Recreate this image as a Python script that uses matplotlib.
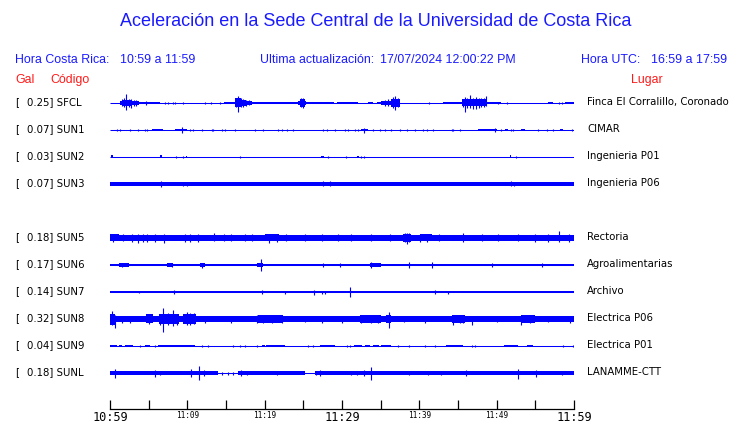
import matplotlib
matplotlib.use("Agg")
import matplotlib.pyplot as plt

# ---------------- data ----------------
codes = ["SFCL", "SUN1", "SUN2", "SUN3", None, "SUN5", "SUN6", "SUN7", "SUN8", "SUN9", "SUNL"]
gal = [0.25, 0.07, 0.03, 0.07, None, 0.18, 0.17, 0.14, 0.32, 0.04, 0.18]
places = ["Finca El Corralillo, Coronado", "CIMAR", "Ingenieria P01", "Ingenieria P06", None,
          "Rectoria", "Agroalimentarias", "Archivo", "Electrica P06", "Electrica P01", "LANAMME-CTT"]

tick_minutes = [0, 5, 10, 15, 20, 25, 30, 35, 40, 45, 50, 55, 60]
tick_labels = ["10:59", "", "11:09", "", "11:19", "", "11:29", "", "11:39", "", "11:49", "", "11:59"]
big_labels = ["10:59", "11:29", "11:59"]

# envelope bursts (start_min, end_min, half amplitude in px) and spikes (min, up px, down px)
sfcl_bursts = [(1.3, 1.6, 2.2), (1.6, 2.9, 3.0), (2.9, 3.7, 2.0), (3.7, 6.5, 1.0),
               (14.7, 16.2, 1.3), (16.2, 16.9, 4.5), (16.9, 17.6, 3.0), (17.6, 18.3, 2.0),
               (18.3, 22.6, 1.4), (22.6, 24.3, 1.0), (24.3, 24.6, 2.0), (24.6, 25.2, 3.6),
               (25.2, 25.4, 1.8), (25.4, 29.0, 1.0), (29.4, 32.1, 1.0), (33.4, 34.0, 1.0),
               (34.5, 35.1, 1.0), (35.1, 36.3, 2.3), (36.3, 37.5, 3.8), (43.1, 45.5, 1.3),
               (45.5, 48.7, 3.5), (48.7, 50.6, 0.8), (56.7, 57.3, 1.0), (58.8, 60.0, 1.3)]
sfcl_spikes = [(2.1, 9.3, 7.3), (1.5, 4, 3), (1.8, 5, 4), (2.4, 4, 4), (2.7, 4, 5), (3.1, 3, 3),
               (3.4, 3, 3), (4.7, 2, 2), (16.3, 5, 4), (16.6, 7.3, 9.3), (16.9, 5, 4), (17.2, 4, 4),
               (17.6, 3, 3), (18.0, 2.5, 2.5), (24.7, 4.5, 4), (24.9, 5, 5.5), (35.5, 3, 3),
               (36.0, 3.5, 3), (36.6, 6, 5), (36.85, 7, 7), (37.2, 5, 4), (45.6, 4, 4), (45.9, 6, 9.3),
               (46.2, 5, 5), (46.6, 8, 5), (47.0, 5, 6), (47.3, 6, 6), (47.7, 5, 5), (48.0, 5, 4),
               (48.3, 5, 4), (48.6, 7.3, 3), (7.1, 1, 1), (7.5, 1, 1), (8.2, 1, 1), (8.4, 1, 1),
               (9.5, 1, 1), (12.3, 1, 1), (13.1, 1, 1), (14.2, 1, 1), (41.2, 1, 1), (50.2, 1, 1),
               (51.3, 1, 1), (58.0, 1, 1), (58.4, 1, 1)]

sun1_bursts = [(5.4, 6.9, 1.0), (8.4, 9.9, 1.3), (32.5, 33.4, 1.0), (47.6, 50.0, 1.0), (51.1, 51.5, 1.0),
               (53.2, 53.6, 1.0), (58.2, 58.6, 1.0)]
sun1_spikes = [(9.3, 2.7, 3), (32.9, 2, 3.5), (49.8, 2, 2),
               (0.86, 1.2, 1.2), (1.29, 1.2, 1.2), (2.59, 1.2, 1.2), (3.66, 1.2, 1.2), (4.53, 1.2, 1.2),
               (4.74, 1.2, 1.2), (10.35, 1.2, 1.2), (10.78, 1.2, 1.2), (11.85, 1.2, 1.2), (13.15, 1.2, 1.2),
               (13.36, 1.2, 1.2), (14.44, 1.2, 1.2), (14.87, 1.2, 1.2), (16.16, 1.2, 1.2), (18.75, 1.2, 1.2),
               (19.83, 1.2, 1.2), (21.77, 1.2, 1.2), (22.2, 1.2, 1.2), (22.85, 1.2, 1.2), (23.71, 1.2, 1.2),
               (27.6, 1.2, 1.2), (28.0, 1.2, 1.2), (29.1, 1.2, 1.2), (30.4, 1.2, 1.2), (30.8, 1.2, 1.2),
               (31.7, 1.2, 1.2), (32.1, 1.2, 1.2), (34.05, 1.2, 1.2), (34.9, 1.2, 1.2), (35.6, 1.2, 1.2),
               (36.4, 1.2, 1.2), (37.5, 1.2, 1.2), (38.4, 1.2, 1.2), (39.4, 1.2, 1.2), (40.5, 1.2, 1.2),
               (41.0, 1.2, 1.2), (41.8, 1.2, 1.2), (44.2, 1.2, 1.2), (44.4, 1.2, 1.2), (45.3, 1.2, 1.2),
               (50.6, 1.2, 1.2), (51.9, 1.2, 1.2), (52.1, 1.2, 1.2), (55.4, 1.2, 1.2), (56.5, 1.2, 1.2),
               (57.3, 1.2, 1.2), (59.7, 1.2, 1.2)]

sun2_bursts = [(0.1, 0.35, 1.5), (6.5, 6.7, 1.5), (9.8, 10.0, 1.3), (27.3, 27.7, 1.3), (31.9, 32.2, 1.3),
               (51.7, 51.9, 1.5)]
sun2_spikes = [(8.5, 1, 1), (9.5, 1.3, 1.3), (16.8, 1.3, 1.3), (28.2, 1, 1), (30.5, 1.3, 1.3),
               (32.5, 1.3, 1.3), (32.8, 1.3, 1.3), (52.5, 1, 1)]

sun3_bursts = [(0.0, 60.0, 1.6)]
sun3_spikes = [(6.6, 3, 3.5), (9.5, 2.3, 2.3), (10.0, 2.3, 2.3), (21.8, 2.3, 1.5), (27.6, 2.5, 2.5),
               (28.4, 2.5, 2.5), (51.8, 2.5, 2.5), (52.3, 2, 2)]

sun5_bursts = [(0.0, 60.0, 2.7), (0.0, 1.1, 3.5), (2.6, 5.0, 3.3), (5.4, 7.5, 3.3), (9.3, 11.9, 3.3),
               (13.0, 14.2, 3.3), (20.0, 21.8, 3.5), (37.9, 38.9, 4.0), (40.1, 41.6, 3.5),
               (55.2, 59.9, 3.3)]
sun5_spikes = [(0.43, 4, 4), (1.72, 3.5, 3.5), (2.8, 4, 4), (3.66, 4, 5), (4.3, 4, 4), (4.74, 4, 4),
               (5.8, 3.5, 4), (7.0, 4, 5), (9.7, 4, 4), (10.3, 4, 4), (11.4, 4, 4), (13.4, 5, 3),
               (14.7, 3.5, 3.5), (15.7, 3.5, 3.5), (17.5, 3.5, 3.5), (18.3, 3.5, 3.5), (20.5, 4, 5),
               (21.6, 4, 4), (22.8, 3.5, 3.5), (25.2, 3.5, 3.5), (27.4, 3.5, 3.5), (29.5, 3.5, 3.5),
               (31.2, 3.5, 3.5), (33.8, 3.5, 3.5), (36.2, 3.5, 3.5), (38.1, 4.5, 4.5), (38.4, 5, 6),
               (38.7, 4.5, 4.5), (40.1, 4, 4), (41.0, 4, 4), (42.5, 3.5, 3.5), (45.7, 4.5, 4.5),
               (48.1, 3.5, 3.5), (50.2, 3.5, 3.5), (52.8, 3.5, 3.5), (55.0, 4, 4), (56.7, 4, 4),
               (58.1, 7, 4), (59.3, 4, 4)]

sun6_bursts = [(0.0, 60.0, 1.4), (1.1, 2.4, 2.0), (7.4, 8.2, 2.0), (11.6, 12.3, 2.2), (19.0, 19.8, 2.0),
               (33.6, 35.1, 2.2)]
sun6_spikes = [(19.5, 6.3, 6), (38.6, 3, 3), (41.6, 3.3, 3.3), (49.4, 2, 2), (55.8, 2, 2), (8.0, 2.3, 2.3),
               (27.6, 2.3, 2.3), (29.7, 2.3, 2.3), (33.8, 3, 3), (11.9, 2.5, 2.5), (1.5, 2.3, 2.3)]

sun7_bursts = [(0.0, 60.0, 1.4)]
sun7_spikes = [(31.0, 5.3, 5.5), (8.3, 2.3, 2.3), (19.6, 2.3, 2.3), (26.4, 2.5, 2.5), (42.0, 2.2, 2.2),
               (3.7, 1.3, 1.3), (22.6, 1.5, 1.5), (27.4, 1.5, 1.5), (27.8, 1.5, 1.5), (43.7, 1.5, 1.5)]

sun8_bursts = [(0.0, 60.0, 2.7), (0.0, 0.7, 5.5), (4.6, 5.5, 4.5), (6.3, 8.9, 5.0), (9.5, 11.1, 5.3),
               (19.2, 22.4, 3.7), (32.3, 35.1, 3.7), (35.7, 36.3, 4.2), (44.2, 45.9, 3.7),
               (53.2, 55.0, 3.7)]
sun8_spikes = [(0.2, 8, 6), (0.6, 4, 9.3), (1.5, 3.5, 3.5), (2.6, 3.5, 3.5), (5.0, 5.3, 5.3),
               (6.5, 5.5, 5.5), (6.9, 10.7, 12.7), (7.5, 6, 6), (8.2, 8.7, 6.7), (8.6, 5.5, 5.5),
               (9.9, 7.3, 6), (10.4, 6, 6), (10.8, 6, 5), (12.3, 3.5, 3.5), (15.7, 3.5, 3.5),
               (19.0, 4.5, 4.5), (19.8, 4.5, 4.5), (21.0, 4, 4), (22.2, 4.5, 4.5), (25.2, 3, 3),
               (27.4, 3.5, 3.5), (30.0, 3.5, 3.5), (32.5, 4.5, 4.5), (33.8, 4, 4), (34.6, 4, 4),
               (36.1, 7, 8.7), (38.0, 3, 3), (40.7, 3.5, 3.5), (44.4, 4, 6), (45.2, 4, 4),
               (45.7, 4, 4), (46.8, 3, 6), (50.0, 3, 3), (53.2, 3.5, 6), (54.3, 4.5, 4.5),
               (56.7, 3, 3), (59.5, 3.5, 3.5)]

sun9_bursts = [(0.0, 0.86, 1.2), (1.1, 1.5, 1.2), (1.9, 3.0, 1.2), (4.5, 5.2, 1.2), (6.25, 11.0, 1.2),
               (19.6, 20.0, 1.2), (20.2, 22.6, 1.2), (27.1, 29.1, 1.2), (31.5, 32.6, 1.2), (33.0, 33.6, 1.2),
               (34.0, 34.8, 1.2), (35.0, 36.4, 1.2), (43.5, 45.7, 1.2), (50.9, 52.8, 1.2), (53.9, 54.7, 1.2)]
sun9_spikes = [(t, 1.2, 1.2) for t in [3.9, 5.8, 11.85, 12.7, 15.95, 16.8, 17.5, 19.0, 25.6, 26.3, 30.6,
                                         31.0, 37.3, 38.6, 40.7, 42.0, 46.8, 47.2, 58.6, 59.9]]

sunl_bursts = [(0.0, 14.0, 1.7), (16.6, 25.2, 1.7), (26.5, 60.0, 1.7)]
sunl_spikes = [(0.65, 4, 4.7), (5.8, 3, 4), (6.5, 2, 2), (10.5, 4, 4), (11.5, 7, 6.7), (12.2, 3, 3),
               (14.5, 1.5, 1.5), (15.2, 1.5, 1.5), (15.9, 1.5, 1.5),
               (17.0, 2.5, 3), (17.7, 1.5, 1.5), (21.6, 2, 2), (26.6, 2, 2), (27.2, 3, 3.3), (31.2, 2, 2),
               (31.9, 2, 2), (32.8, 2.5, 3.3), (33.75, 6, 6.7), (38.7, 1.5, 1.5), (41.1, 1.5, 1.5),
               (42.8, 1.5, 1.5), (46.0, 2.5, 2.5), (52.7, 4.3, 6), (55.1, 3, 4.3), (58.5, 1.5, 1.5)]

traces = [(sfcl_bursts, sfcl_spikes), (sun1_bursts, sun1_spikes), (sun2_bursts, sun2_spikes),
          (sun3_bursts, sun3_spikes), None, (sun5_bursts, sun5_spikes), (sun6_bursts, sun6_spikes),
          (sun7_bursts, sun7_spikes), (sun8_bursts, sun8_spikes), (sun9_bursts, sun9_spikes),
          (sunl_bursts, sunl_spikes)]

# ---------------- layout ----------------
W, H = 740, 423
BLUE = "#0000ff"
TBLUE = "#1a1aff"
RED = "#ff1a1a"
X0, X1 = 110, 574          # trace area in px
ROW0, ROW_PX = 103, 27     # first baseline and spacing in px
AX_TOP, AX_BOT = 88, 388

fig = plt.figure(figsize=(W / 100, H / 100), dpi=100)
fig.patch.set_facecolor("white")


def fx(px):
    return px / W


def fy(py):
    return 1 - py / H


ax = fig.add_axes([fx(X0), fy(AX_BOT), (X1 - X0) / W, (AX_BOT - AX_TOP) / H])
ax.set_xlim(0, 60)
ax.set_ylim(-(AX_BOT - ROW0) / ROW_PX, (ROW0 - AX_TOP) / ROW_PX)
ax.axis("off")

for i, tr in enumerate(traces):
    if tr is None:
        continue
    bursts, spikes = tr
    y0 = -i
    ax.hlines(y0, 0, 60, color=BLUE, lw=0.75)
    for (t0, t1, a) in bursts:
        ax.bar(t0, 2 * a / ROW_PX, width=t1 - t0, bottom=y0 - a / ROW_PX, align="edge",
               color=BLUE, linewidth=0)
    for (t, up, dn) in spikes:
        ax.vlines(t, y0 - dn / ROW_PX, y0 + up / ROW_PX, color=BLUE, lw=0.8)

# labels per row
for i, (c, g, p) in enumerate(zip(codes, gal, places)):
    if c is None:
        continue
    ypx = ROW0 + i * ROW_PX - 1
    fig.text(fx(15), fy(ypx), "[", fontsize=7.3, family="DejaVu Sans", va="center", ha="left")
    fig.text(fx(27), fy(ypx), f"{g:.2f}] {c}", fontsize=7.3, family="DejaVu Sans", va="center", ha="left")
    fig.text(fx(587), fy(ypx), p, fontsize=7.3, family="DejaVu Sans", va="center", ha="left")

# header
hf = "Liberation Sans"
fig.text(fx(376), fy(22), "Aceleración en la Sede Central de la Universidad de Costa Rica",
         fontsize=13.0, family=hf, color=TBLUE, ha="center", va="center")
fig.text(fx(15), fy(60), "Hora Costa Rica:", fontsize=8.9, family=hf, color=TBLUE, va="center")
fig.text(fx(120), fy(60), "10:59 a 11:59", fontsize=8.9, family=hf, color=TBLUE, va="center")
fig.text(fx(260), fy(60), "Ultima actualización:", fontsize=8.9, family=hf, color=TBLUE, va="center")
fig.text(fx(380), fy(60), "17/07/2024 12:00:22 PM", fontsize=8.9, family=hf, color=TBLUE, va="center")
fig.text(fx(581), fy(60), "Hora UTC:", fontsize=8.9, family=hf, color=TBLUE, va="center")
fig.text(fx(651), fy(60), "16:59 a 17:59", fontsize=8.9, family=hf, color=TBLUE, va="center")
fig.text(fx(15), fy(80), "Gal", fontsize=8.9, family=hf, color=RED, va="center")
fig.text(fx(50), fy(80), "Código", fontsize=8.9, family=hf, color=RED, va="center")
fig.text(fx(631), fy(80), "Lugar", fontsize=8.9, family=hf, color=RED, va="center")

# time axis
AXIS_Y = 409
tax = fig.add_axes([fx(X0), fy(AXIS_Y), (X1 - X0) / W, 0.001])
tax.set_xlim(0, 60)
tax.set_yticks([])
for s in ["top", "left", "right"]:
    tax.spines[s].set_visible(False)
tax.spines["bottom"].set_linewidth(0.9)
tax.set_xticks(tick_minutes)
tax.set_xticklabels(tick_labels)
tax.tick_params(axis="x", direction="in", length=6.2, width=0.9, pad=1.2)
for lab in tax.get_xticklabels():
    lab.set_family("DejaVu Sans Mono")
    if lab.get_text() in big_labels:
        lab.set_fontsize(8.6)
    else:
        lab.set_fontsize(5.6)
tax.patch.set_alpha(0)

fig.savefig("out.png", dpi=100, facecolor="white")
